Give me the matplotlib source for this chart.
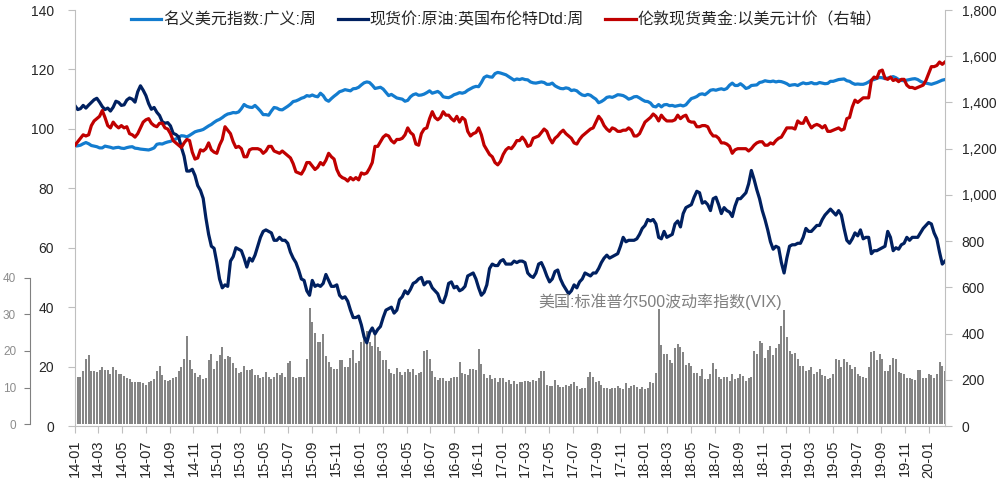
import matplotlib.pyplot as plt
import matplotlib.ticker as mticker
import pandas as pd

plt.rcParams['font.family'] = ['Liberation Sans', 'Noto Sans CJK SC', 'DejaVu Sans']

# weekly observations, Fridays 2014-01-03 .. 2020-02-14
week_start = '2014-01-03'
week_end = '2020-02-14'

# 名义美元指数:广义:周 (left axis)
usd_index = [
    # 2014
    94.2, 94.3, 94.5, 95.0, 95.4, 95.0, 94.4, 94.2, 94.0, 93.6, 93.6, 94.2, 94.0,
    93.8, 93.5, 93.7, 93.8, 93.5, 93.4, 93.7, 93.9, 94.0, 93.5, 93.4, 93.2, 93.1,
    93.0, 92.9, 93.2, 93.6, 94.8, 95.0, 94.9, 95.3, 95.6, 95.8, 96.3, 96.6, 97.2,
    97.7, 97.6, 97.3, 97.8, 98.4, 99.0, 99.3, 99.5, 99.8, 100.4, 101.0, 101.5, 102.2,
    # 2015
    102.8, 103.2, 103.8, 104.5, 105.0, 105.2, 105.5, 105.4, 105.7, 106.8, 108.2, 107.6, 107.3,
    107.2, 107.9, 107.0, 106.0, 104.8, 104.8, 104.6, 106.0, 107.2, 107.0, 106.5, 106.4, 107.0,
    107.6, 108.3, 109.2, 109.4, 109.8, 110.3, 110.6, 111.2, 111.0, 111.4, 111.0, 110.8, 112.0,
    111.2, 109.8, 109.3, 110.2, 111.0, 111.7, 112.5, 112.8, 113.2, 113.0, 112.8, 113.5, 113.6,
    # 2016
    114.0, 114.8, 115.5, 115.8, 115.6, 114.7, 113.6, 113.8, 114.0, 113.4, 112.3, 111.2, 111.6,
    111.0, 110.4, 110.2, 110.0, 109.3, 109.6, 110.8, 111.5, 111.8, 111.3, 111.4, 111.7, 112.2,
    112.8, 112.0, 112.3, 112.6, 112.0, 110.8, 110.6, 110.5, 110.9, 111.5, 111.8, 112.2, 112.0,
    112.3, 113.0, 113.5, 114.0, 114.3, 114.2, 115.6, 117.3, 117.8, 117.5, 117.4, 118.6, 119.0, 118.8,
    # 2017
    118.5, 118.2, 117.6, 117.0, 116.4, 116.8, 116.6, 116.9, 116.6, 116.5, 115.8, 115.5, 115.4,
    115.6, 115.8, 115.6, 115.0, 115.0, 115.4, 114.5, 114.0, 113.6, 113.5, 113.8, 113.6, 112.9,
    113.1, 112.8, 112.0, 111.4, 111.2, 111.6, 111.3, 110.6, 110.0, 108.8, 109.2, 109.8, 110.6,
    110.8, 110.6, 111.0, 111.5, 111.4, 111.2, 110.7, 110.0, 110.3, 110.8, 110.9, 110.4, 109.8,
    # 2018
    109.3, 109.2, 108.7, 107.6, 107.4, 108.2, 107.4, 108.1, 108.2, 107.8, 107.9, 107.6, 107.8,
    108.0, 107.7, 108.1, 109.2, 110.2, 110.5, 110.9, 111.6, 111.8, 111.5, 112.2, 113.0, 113.2,
    113.0, 113.3, 113.5, 113.2, 113.6, 114.7, 115.4, 114.6, 114.6, 115.2, 114.5, 113.6, 113.9,
    114.6, 114.7, 114.8, 115.6, 115.8, 116.2, 116.0, 115.9, 116.1, 115.8, 116.0, 115.9, 115.6,
    # 2019
    115.2, 114.6, 114.8, 114.9, 114.6, 115.1, 115.5, 115.2, 115.3, 115.6, 115.2, 115.2, 115.6,
    115.4, 115.2, 115.3, 116.0, 116.0, 116.3, 116.6, 116.7, 116.8, 116.2, 116.0, 115.4, 115.0,
    115.1, 115.0, 115.0, 115.3, 115.8, 116.4, 116.6, 117.0, 117.3, 117.2, 116.9, 117.1, 117.3,
    117.6, 117.2, 116.6, 116.3, 116.2, 116.4, 116.6, 116.8, 116.9, 116.6, 116.0, 115.6, 115.4,
    # 2020
    115.2, 115.0, 115.3, 115.6, 116.0, 116.4, 116.6,
]

# 现货价:原油:英国布伦特Dtd:周 (left axis)
brent = [
    # 2014
    107.8, 106.5, 106.8, 107.9, 107.0, 108.0, 108.9, 109.8, 110.3, 109.0, 107.5, 106.5, 107.0,
    106.0, 107.3, 109.3, 108.9, 107.9, 108.1, 109.7, 110.4, 110.0, 109.0, 112.5, 114.5, 113.0,
    111.2, 108.5, 106.6, 107.2, 105.6, 104.5, 102.4, 101.9, 102.1, 101.0, 98.5, 98.1, 97.3,
    93.8, 90.8, 85.8, 85.8, 86.4, 84.3, 80.9, 79.3, 76.6, 70.0, 64.5, 60.5, 59.8,
    # 2015
    55.0, 49.5, 46.5, 47.5, 47.0, 55.5, 57.0, 60.0, 59.5, 59.0, 56.5, 53.5, 56.5,
    55.5, 57.5, 60.5, 63.5, 65.5, 66.0, 65.5, 65.0, 62.5, 62.5, 63.5, 62.5, 62.5,
    61.5, 58.5, 56.5, 55.0, 52.5, 49.5, 49.0, 45.5, 44.0, 49.0, 47.0, 47.5, 47.0,
    48.0, 51.0, 49.0, 47.0, 47.0, 47.5, 44.0, 43.0, 43.5, 42.0, 39.0, 36.5, 36.5,
    # 2016
    37.0, 34.0, 30.0, 28.0, 31.5, 33.0, 31.0, 32.5, 33.5, 36.5, 39.0, 39.5, 40.0,
    38.0, 39.0, 42.5, 43.5, 45.5, 44.5, 46.0, 48.0, 48.5, 49.5, 50.0, 47.5, 48.5,
    48.5, 46.5, 45.5, 44.5, 42.0, 41.5, 44.0, 48.0, 48.5, 46.5, 47.0, 45.5, 46.0,
    47.0, 50.5, 51.0, 51.5, 49.5, 46.5, 44.0, 45.0, 47.5, 53.0, 54.5, 54.0, 54.0, 55.5,
    # 2017
    56.0, 54.5, 54.5, 54.5, 55.5, 55.0, 55.5, 55.5, 55.0, 51.5, 50.5, 50.0, 51.5,
    54.5, 55.0, 53.0, 50.5, 48.5, 49.5, 52.0, 52.5, 49.5, 47.5, 46.0, 44.5, 45.5,
    47.5, 46.5, 48.5, 49.5, 51.5, 51.0, 50.5, 51.5, 51.5, 53.0, 55.0, 56.5, 57.5,
    56.5, 57.0, 57.5, 58.0, 60.5, 63.5, 62.0, 62.5, 62.5, 62.5, 63.0, 64.5, 66.5,
    # 2018
    67.5, 69.5, 69.0, 69.5, 68.0, 63.5, 63.0, 65.5, 63.5, 64.0, 64.5, 68.0, 69.0,
    67.0, 71.5, 73.5, 74.0, 74.5, 77.0, 79.0, 78.5, 75.0, 75.5, 74.5, 72.5, 76.5,
    77.0, 74.5, 71.5, 73.5, 72.5, 72.0, 70.5, 74.0, 76.5, 76.5, 77.5, 78.5, 81.5,
    86.0, 83.0, 79.5, 76.5, 72.5, 69.5, 66.0, 62.0, 59.5, 60.5, 60.0, 55.0, 51.5,
    # 2019
    56.5, 60.5, 61.0, 61.0, 61.5, 61.5, 63.5, 66.5, 65.5, 65.5, 66.5, 67.5, 67.5,
    69.5, 71.0, 72.0, 73.0, 72.0, 71.0, 72.5, 71.0, 66.5, 62.5, 61.5, 63.0, 65.0,
    64.0, 66.0, 63.0, 63.5, 63.5, 58.0, 59.0, 59.0, 59.5, 60.0, 60.5, 65.5, 63.5,
    59.0, 60.0, 59.5, 61.0, 61.5, 63.5, 62.5, 63.5, 63.5, 63.5, 65.0, 66.5, 67.5,
    # 2020
    68.5, 68.0, 65.0, 63.0, 58.5, 54.5, 55.5,
]

# 伦敦现货黄金:以美元计价 (right axis)
gold = [
    # 2014
    1215, 1230, 1245, 1260, 1255, 1260, 1300, 1320, 1330, 1340, 1365, 1335, 1300,
    1290, 1315, 1300, 1290, 1300, 1290, 1295, 1265, 1260, 1250, 1265, 1290, 1315,
    1325, 1330, 1310, 1300, 1295, 1310, 1310, 1290, 1285, 1265, 1235, 1225, 1215,
    1205, 1225, 1240, 1235, 1185, 1155, 1160, 1195, 1190, 1200, 1225, 1195, 1185,
    # 2015
    1180, 1215, 1240, 1295, 1280, 1265, 1230, 1205, 1210, 1200, 1165, 1165, 1195,
    1200, 1200, 1200, 1195, 1180, 1190, 1210, 1210, 1190, 1185, 1180, 1190, 1180,
    1170, 1160, 1135, 1100, 1095, 1090, 1110, 1140, 1140, 1125, 1110, 1120, 1140,
    1130, 1150, 1180, 1165, 1155, 1110, 1085, 1075, 1070, 1060, 1075, 1065, 1075,
    # 2016
    1065, 1095, 1090, 1095, 1115, 1140, 1210, 1210, 1230, 1250, 1260, 1255, 1235,
    1225, 1240, 1240, 1245, 1260, 1290, 1270, 1260, 1220, 1215, 1265, 1285, 1290,
    1330, 1360, 1335, 1325, 1335, 1360, 1345, 1345, 1330, 1320, 1340, 1315, 1335,
    1325, 1275, 1255, 1265, 1270, 1290, 1260, 1215, 1195, 1175, 1165, 1140, 1130, 1145,
    # 2017
    1175, 1195, 1205, 1200, 1215, 1235, 1235, 1250, 1235, 1210, 1215, 1245, 1250,
    1255, 1270, 1285, 1275, 1245, 1225, 1245, 1255, 1270, 1280, 1265, 1255, 1245,
    1225, 1220, 1240, 1255, 1265, 1275, 1285, 1290, 1315, 1340, 1325, 1300, 1285,
    1275, 1290, 1285, 1275, 1275, 1280, 1280, 1290, 1280, 1255, 1255, 1265, 1290,
    # 2018
    1315, 1325, 1335, 1350, 1340, 1320, 1345, 1330, 1320, 1320, 1320, 1325, 1345,
    1330, 1340, 1345, 1320, 1315, 1315, 1295, 1295, 1300, 1300, 1295, 1270, 1255,
    1255, 1245, 1225, 1225, 1220, 1210, 1180, 1195, 1200, 1200, 1200, 1200, 1190,
    1200, 1215, 1225, 1230, 1230, 1215, 1215, 1225, 1220, 1235, 1245, 1250, 1270,
    # 2019
    1290, 1290, 1290, 1285, 1320, 1310, 1310, 1335, 1310, 1290, 1300, 1305, 1300,
    1290, 1300, 1275, 1275, 1280, 1285, 1290, 1280, 1285, 1330, 1335, 1380, 1410,
    1400, 1410, 1420, 1420, 1420, 1495, 1510, 1505, 1535, 1540, 1505, 1500, 1510,
    1495, 1500, 1490, 1500, 1500, 1475, 1465, 1465, 1460, 1465, 1470, 1475, 1495,
    # 2020
    1525, 1555, 1555, 1560, 1575, 1565, 1575,
]

# 美国:标准普尔500波动率指数(VIX), bars on their own small scale
vix = [
    # 2014
    13.8, 12.9, 12.8, 14.5, 17.8, 18.8, 14.6, 14.4, 14.3, 14.8, 15.5, 14.7, 14.8,
    13.6, 15.6, 14.9, 13.7, 13.6, 13.2, 12.6, 12.3, 11.6, 11.6, 11.6, 11.5, 11.3,
    10.6, 11.6, 11.8, 12.2, 14.5, 16.0, 13.5, 12.0, 11.8, 12.1, 12.5, 12.8, 14.5,
    15.5, 17.8, 24.2, 17.5, 15.0, 14.0, 13.0, 13.3, 12.4, 12.6, 17.5, 19.3, 15.2,
    # 2015
    17.3, 19.0, 21.2, 17.8, 18.6, 18.3, 16.6, 15.3, 13.9, 14.2, 16.0, 14.8, 14.8,
    15.0, 13.5, 13.3, 12.6, 13.0, 14.3, 12.8, 12.4, 12.8, 13.9, 13.4, 13.9, 13.0,
    16.6, 17.2, 12.9, 12.5, 12.8, 12.9, 13.0, 17.8, 31.8, 28.0, 24.8, 22.5, 22.5,
    24.6, 18.6, 17.0, 15.6, 15.2, 15.2, 17.5, 17.5, 15.6, 15.6, 18.2, 20.2, 16.7,
    # 2016
    17.3, 22.5, 24.6, 25.5, 22.5, 21.5, 25.4, 21.0, 20.0, 17.5, 17.5, 15.0, 14.0,
    13.7, 15.3, 14.2, 13.5, 14.3, 15.0, 14.3, 15.0, 13.3, 13.9, 14.2, 19.9, 20.2,
    17.9, 14.6, 12.8, 12.0, 12.5, 12.5, 11.8, 11.8, 12.7, 12.8, 13.0, 17.0, 14.0,
    13.6, 13.3, 15.0, 15.0, 14.8, 20.5, 16.5, 13.6, 12.5, 13.5, 12.3, 12.5, 11.5, 12.7,
    # 2017
    12.5, 11.4, 12.0, 11.0, 11.7, 11.0, 11.4, 11.6, 11.9, 11.8, 11.5, 12.0, 11.9,
    12.6, 14.6, 14.4, 10.8, 10.5, 10.3, 12.0, 10.6, 10.2, 10.2, 10.6, 10.5, 10.9,
    11.5, 10.4, 9.7, 9.8, 10.0, 13.0, 14.3, 12.8, 11.4, 11.7, 10.8, 10.0, 9.9,
    9.6, 9.8, 10.0, 10.5, 9.8, 9.6, 11.3, 9.9, 10.5, 10.7, 10.1, 9.7, 10.1,
    # 2018
    9.5, 10.0, 11.5, 11.3, 13.9, 31.5, 21.6, 19.3, 19.3, 17.5, 16.6, 20.7, 21.8,
    21.1, 19.8, 16.1, 16.8, 15.8, 14.0, 14.0, 13.1, 15.2, 12.4, 12.4, 13.6, 16.7,
    15.2, 12.8, 12.4, 12.8, 12.8, 11.8, 13.8, 12.4, 12.6, 13.8, 13.2, 11.8, 12.6,
    12.8, 20.0, 19.3, 22.8, 22.1, 18.2, 20.4, 21.3, 18.9, 20.7, 21.8, 26.9, 31.1,
    # 2019
    23.9, 20.0, 19.1, 19.5, 17.9, 15.8, 15.8, 14.5, 14.7, 15.6, 13.8, 14.3, 15.2,
    13.3, 13.1, 12.4, 12.7, 13.6, 17.9, 17.5, 15.6, 17.9, 17.0, 16.1, 15.2, 15.6,
    13.6, 13.2, 13.0, 12.7, 15.6, 19.8, 20.0, 17.5, 19.3, 17.7, 14.5, 14.5, 16.3,
    18.2, 17.9, 14.2, 14.0, 13.6, 12.7, 12.6, 12.4, 12.1, 14.8, 14.7, 12.6, 12.7,
    # 2020
    13.8, 13.3, 12.7, 13.6, 17.0, 15.9, 14.5,
]

legend_labels = ['名义美元指数:广义:周', '现货价:原油:英国布伦特Dtd:周', '伦敦现货黄金:以美元计价（右轴）']
vix_label = '美国:标准普尔500波动率指数(VIX)'

dates = pd.date_range(week_start, week_end, freq='W-FRI')
xticks = pd.date_range(week_start, week_end, freq=pd.DateOffset(months=2))

grey = '#BFBFBF'
fig = plt.figure(figsize=(10, 4.84), dpi=100)
ax = fig.add_axes([0.075, 0.1198, 0.870, 0.8595])
ax_vix = ax.twinx()
ax_gold = ax.twinx()
ax_vix.set_zorder(0)
ax.set_zorder(1)
ax_gold.set_zorder(2)
ax.patch.set_visible(False)
ax_gold.patch.set_visible(False)

# VIX bars
ax_vix.bar(dates, vix, width=5, color='#858585', linewidth=0)
ax_vix.set_ylim(-0.55, 113.4)
ax_vix.set_yticks([0, 10, 20, 30, 40])
ax_vix.yaxis.set_ticks_position('left')
for s in ['top', 'right', 'bottom']:
    ax_vix.spines[s].set_visible(False)
ax_vix.spines['left'].set_position(('axes', -0.0517))
ax_vix.spines['left'].set_bounds(0, 40)
ax_vix.spines['left'].set_color('#808080')
ax_vix.tick_params(axis='y', length=4, color='#808080', labelsize=8.5,
                   labelcolor='#8C8C8C', pad=6)

# lines
l1, = ax.plot(dates, usd_index, color='#137CCF', lw=2.3)
l2, = ax.plot(dates, brent, color='#002060', lw=2.3)
l3, = ax_gold.plot(dates, gold, color='#C00000', lw=2.3)

ax.set_ylim(0, 140)
ax.set_yticks(range(0, 141, 20))
ax_gold.set_ylim(0, 1800)
ax_gold.set_yticks(range(0, 1801, 200))
ax_gold.yaxis.set_major_formatter(mticker.FuncFormatter(lambda v, p: '{:,.0f}'.format(v)))

ax.set_xlim(dates[0], dates[-1])
ax.set_xticks(xticks)
ax.set_xticklabels([d.strftime('%y-%m') for d in xticks], rotation=90)

ax.spines['top'].set_visible(False)
ax.spines['right'].set_visible(False)
ax.spines['left'].set_color(grey)
ax.spines['bottom'].set_color(grey)
for s in ['top', 'left', 'bottom']:
    ax_gold.spines[s].set_visible(False)
ax_gold.spines['right'].set_color(grey)

ax.tick_params(axis='y', length=5, color=grey, labelsize=10, labelcolor='#262626', pad=10)
ax.tick_params(axis='x', length=5, color=grey, labelsize=10.5, labelcolor='#262626', pad=5)
ax_gold.tick_params(axis='y', length=5, color=grey, labelsize=10, labelcolor='#262626', pad=7)

ax_gold.legend([l1, l2, l3], legend_labels, loc='center', bbox_to_anchor=(0.496, 0.976),
               ncol=3, frameon=False, fontsize=11.5, handlelength=1.9,
               handletextpad=0.1, columnspacing=1.35, labelcolor='#262626')

ax_gold.text(0.533, 0.300, vix_label, transform=ax.transAxes, color='#808080',
             fontsize=11.5, va='center', ha='left')

fig.savefig('out.png', dpi=100, facecolor='white')
